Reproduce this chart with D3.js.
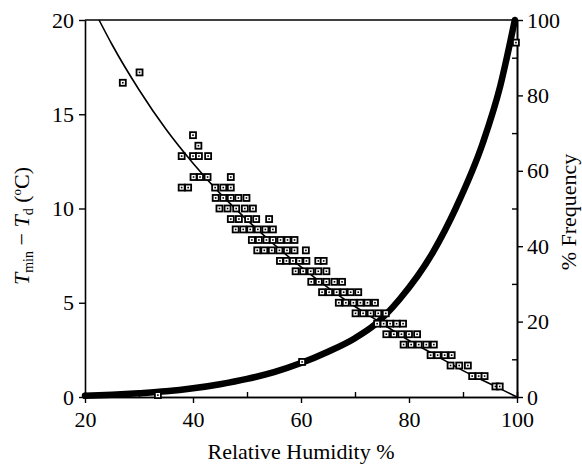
<!DOCTYPE html>
<html>
<head>
<meta charset="utf-8">
<script src="https://cdn.jsdelivr.net/npm/d3@7"></script>
<style>
  body { margin: 0; background: #fff; }
  svg text { font-family: "Liberation Serif", "Tinos", "Times New Roman", "Nimbus Roman", "DejaVu Serif", serif; }
</style>
</head>
<body>
<div id="chart"></div>
<script>
// axis ticks
const rhTicks = [20, 40, 60, 80, 100];
const rhMinor = [30, 50, 70, 90];
const depTicks = [0, 5, 10, 15, 20];
const freqTicks = [0, 20, 40, 60, 80, 100];
const freqMinor = [10, 30, 50, 70, 90];

// observed Tmin - Td, one row per step (values come in 1 F = 0.56 C steps)
const rowDep = [17.22, 16.67, 13.89, 13.33, 12.78, 11.67, 11.11, 10.56, 10.00, 9.44,
  8.89, 8.33, 7.78, 7.22, 6.67, 6.11, 5.56, 5.00, 4.44, 3.89, 3.33, 2.78, 2.22, 1.67, 1.11, 0.56];
const rowRH = [
  [30.1],
  [27.0],
  [40.0],
  [41.0],
  [37.9, 40.0, 41.1, 42.8],
  [40.1, 41.3, 42.7, 47.0],
  [37.9, 39.1, 44.1, 45.6, 47.0],
  [44.2, 45.6, 47.0, 48.4, 49.9],
  [44.9, 46.4, 48.0, 49.6, 51.1],
  [47.0, 48.5, 50.2, 51.7, 54.1],
  [47.9, 49.3, 50.6, 52.0, 53.4, 54.8],
  [50.9, 52.2, 53.6, 54.8, 56.2, 57.5, 58.8],
  [51.9, 53.2, 54.6, 56.0, 57.4, 58.8, 60.9],
  [56.1, 57.3, 58.5, 59.7, 61.0, 63.2, 64.2],
  [59.0, 60.4, 61.8, 63.2, 64.7],
  [61.9, 63.3, 64.7, 66.2, 67.6],
  [63.9, 65.2, 66.6, 67.9, 69.2, 70.6],
  [67.0, 68.3, 69.7, 71.0, 72.3, 73.7],
  [70.1, 71.5, 72.9, 74.3, 75.7],
  [74.1, 75.3, 76.5, 77.7, 78.9],
  [75.8, 77.2, 78.6, 80.0, 81.5],
  [79.0, 80.4, 81.8, 83.2, 84.6],
  [84.0, 85.3, 86.6, 87.9],
  [87.7, 89.3, 90.9],
  [91.7, 92.9, 94.0],
  [96.0, 96.8]
];

// fitted curve
const fitRH = [22.6, 25, 30, 35, 40, 45, 50, 55, 60, 65, 70, 75, 80, 85, 90, 95, 100];
const fitDep = [20, 18.7, 16.3, 14.2, 12.4, 10.8, 9.4, 8.1, 6.9, 5.8, 4.8, 3.9, 3.0, 2.2, 1.4, 0.7, 0];

// cumulative % frequency
const freqRH = [20, 25, 30, 35, 40, 45, 50, 55, 60, 65, 70, 73.7, 78.3, 84.4, 88.8, 93.7, 96.9, 99.6];
const freqPct = [0.3, 0.6, 1.0, 1.5, 2.3, 3.4, 4.8, 6.6, 9.0, 12.0, 15.6, 19.2, 26.0, 38.3, 50.5, 67.5, 82.5, 100];
const freqMarkRH = [33.5, 60.2, 99.8];
const freqMarkPct = [0.5, 9.3, 94];

const W = 582, H = 466;
const margin = {top: 20, right: 65, bottom: 69, left: 85};
const fontSize = 22;

const svg = d3.select("#chart").append("svg")
  .attr("width", W)
  .attr("height", H);

const x = d3.scaleLinear().domain([20, 100]).range([margin.left, W - margin.right]);
const y = d3.scaleLinear().domain([0, 20]).range([H - margin.bottom, margin.top]);
const y2 = d3.scaleLinear().domain([0, 100]).range([H - margin.bottom, margin.top]);

function styleAxis(g) {
  g.attr("font-family", null);
  g.selectAll(".domain").attr("stroke", "#000").attr("stroke-width", 1.6);
  g.selectAll(".tick line").attr("stroke", "#000").attr("stroke-width", 1.4);
  g.selectAll(".tick text").attr("font-size", fontSize).attr("fill", "#000");
}

// minor ticks, pointing into the plot
svg.append("g")
  .attr("transform", "translate(0," + y.range()[0] + ")")
  .call(d3.axisBottom(x).tickValues(rhMinor).tickSize(-5).tickFormat(""))
  .call(styleAxis);
svg.append("g")
  .attr("transform", "translate(" + x.range()[1] + ",0)")
  .call(d3.axisRight(y2).tickValues(freqMinor).tickSize(-5).tickFormat(""))
  .call(styleAxis);

// top frame
svg.append("line")
  .attr("x1", x(20)).attr("x2", x(100))
  .attr("y1", y(20)).attr("y2", y(20))
  .attr("stroke", "#000").attr("stroke-width", 1.6);

svg.append("g")
  .attr("transform", "translate(0," + y.range()[0] + ")")
  .call(d3.axisBottom(x).tickValues(rhTicks).tickSize(6).tickSizeOuter(0).tickPadding(8))
  .call(styleAxis);

svg.append("g")
  .attr("transform", "translate(" + x.range()[0] + ",0)")
  .call(d3.axisLeft(y).tickValues(depTicks).tickSize(6).tickSizeOuter(0).tickPadding(5))
  .call(styleAxis);

svg.append("g")
  .attr("transform", "translate(" + x.range()[1] + ",0)")
  .call(d3.axisRight(y2).tickValues(freqTicks).tickSize(6).tickSizeOuter(0).tickPadding(4))
  .call(styleAxis);

// frequency curve (thick)
const freqPts = freqRH.map((r, i) => [r, freqPct[i]]);
svg.append("path")
  .datum(freqPts)
  .attr("fill", "none")
  .attr("stroke", "#000")
  .attr("stroke-width", 6.5)
  .attr("stroke-linecap", "round")
  .attr("d", d3.line().x(d => x(d[0])).y(d => y2(d[1])).curve(d3.curveMonotoneX));

// fitted line
const fitPts = fitRH.map((r, i) => [r, fitDep[i]]);
svg.append("path")
  .datum(fitPts)
  .attr("fill", "none")
  .attr("stroke", "#000")
  .attr("stroke-width", 1.6)
  .attr("d", d3.line().x(d => x(d[0])).y(d => y(d[1])).curve(d3.curveMonotoneX));

// square markers
const pts = [];
rowRH.forEach((row, i) => row.forEach(r => pts.push({px: x(r), py: y(rowDep[i])})));
freqMarkRH.forEach((r, i) => pts.push({px: x(r), py: y2(freqMarkPct[i])}));

const mk = svg.append("g").selectAll("g")
  .data(pts)
  .enter()
  .append("g")
  .attr("transform", d => "translate(" + d.px + "," + d.py + ")");
mk.append("rect")
  .attr("x", -3).attr("y", -3).attr("width", 6).attr("height", 6)
  .attr("fill", "#fff").attr("stroke", "#000").attr("stroke-width", 1.8);
mk.append("rect")
  .attr("x", -0.8).attr("y", -0.8).attr("width", 1.6).attr("height", 1.6)
  .attr("fill", "#000");

// axis titles
svg.append("text")
  .attr("x", (x.range()[0] + x.range()[1]) / 2)
  .attr("y", 459)
  .attr("text-anchor", "middle")
  .attr("font-size", fontSize)
  .text("Relative Humidity %");

svg.append("text")
  .attr("transform", "translate(576," + 212 + ") rotate(-90)")
  .attr("text-anchor", "middle")
  .attr("font-size", fontSize)
  .text("% Frequency");

const yt = svg.append("text")
  .attr("transform", "translate(29," + 226 + ") rotate(-90)")
  .attr("text-anchor", "middle")
  .attr("font-size", fontSize);
yt.append("tspan").attr("font-style", "italic").text("T");
yt.append("tspan").attr("font-size", 14).attr("dy", 4).text("min");
yt.append("tspan").attr("dy", -4).text(" \u2212 ");
yt.append("tspan").attr("font-style", "italic").text("T");
yt.append("tspan").attr("font-size", 14).attr("dy", 4).text("d");
yt.append("tspan").attr("dy", -4).text(" (");
yt.append("tspan").attr("font-size", 13).attr("dy", -8).text("o");
yt.append("tspan").attr("dy", 8).text("C)");
</script>
</body>
</html>
